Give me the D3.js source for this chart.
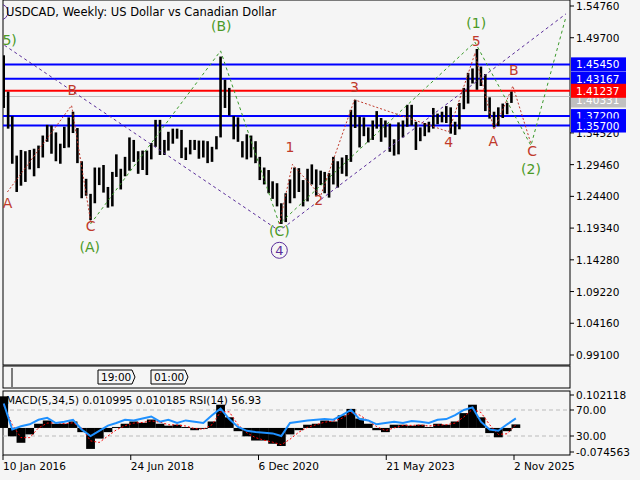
<!DOCTYPE html>
<html><head><meta charset="utf-8">
<script src="https://cdn.jsdelivr.net/npm/d3@7"></script>
<style>body{margin:0;background:#f5f5f5}svg{font-family:"DejaVu Sans",sans-serif}</style>
</head><body><svg id="c" width="640" height="480"></svg>
<script>
// monthly highs / lows from Jan 2016
const highs = [1.469,1.411,1.372,1.309,1.318,1.316,1.318,1.320,1.325,1.341,1.358,1.357,
  1.346,1.328,1.355,1.370,1.379,1.353,1.300,1.272,1.248,1.290,1.290,1.294,
  1.259,1.283,1.311,1.288,1.307,1.338,1.334,1.316,1.317,1.317,1.329,1.366,
  1.366,1.334,1.347,1.352,1.352,1.350,1.322,1.334,1.334,1.333,1.333,1.332,
  1.323,1.340,1.467,1.430,1.417,1.372,1.370,1.332,1.343,1.341,1.332,1.307,
  1.290,1.286,1.268,1.265,1.233,1.249,1.271,1.290,1.289,1.270,1.288,1.295,
  1.287,1.285,1.283,1.281,1.307,1.300,1.306,1.310,1.382,1.398,1.371,1.370,
  1.354,1.365,1.380,1.369,1.365,1.360,1.335,1.362,1.365,1.390,1.390,1.363,
  1.354,1.361,1.363,1.385,1.376,1.379,1.388,1.386,1.363,1.393,1.417,1.441,
  1.448,1.479,1.451,1.439,1.402,1.379,1.386,1.392,1.393,1.411];
const lows = [1.385,1.352,1.296,1.251,1.261,1.267,1.287,1.276,1.289,1.306,1.331,1.312,
  1.300,1.296,1.321,1.322,1.345,1.297,1.241,1.245,1.206,1.233,1.262,1.250,
  1.226,1.228,1.275,1.255,1.276,1.285,1.299,1.280,1.286,1.278,1.303,1.323,
  1.310,1.310,1.317,1.328,1.336,1.305,1.302,1.311,1.318,1.304,1.306,1.297,
  1.299,1.319,1.338,1.385,1.373,1.335,1.331,1.306,1.303,1.306,1.297,1.270,
  1.263,1.249,1.240,1.228,1.200,1.203,1.233,1.241,1.251,1.228,1.236,1.263,
  1.245,1.262,1.249,1.242,1.263,1.258,1.280,1.276,1.299,1.353,1.322,1.340,
  1.330,1.334,1.352,1.331,1.338,1.315,1.309,1.311,1.338,1.355,1.357,1.318,
  1.332,1.340,1.346,1.352,1.359,1.362,1.361,1.344,1.342,1.351,1.383,1.392,
  1.424,1.414,1.420,1.380,1.368,1.354,1.356,1.369,1.375,1.393];
// every two months
const macd = [0.098,-0.026,-0.046,-0.02,0.013,0.023,0.013,0.013,0.02,-0.013,-0.065,-0.033,-0.013,0.003,0.013,0.02,0.016,0.026,0.013,0.007,
  0.01,0.003,-0.007,-0.003,0.02,0.072,0.033,-0.01,-0.026,-0.039,-0.039,-0.049,-0.056,-0.02,-0.007,0.01,0.013,0.023,0.02,0.039,
  0.059,0.029,0.013,-0.007,-0.013,0.01,0.01,0.007,0.01,0.003,0.013,0.01,0.02,0.046,0.072,0.033,-0.016,-0.029,-0.01,0.011];
const signal = [0.07,0.01,-0.03,-0.03,0.0,0.015,0.016,0.013,0.016,0.0,-0.04,-0.045,-0.025,-0.006,0.007,0.015,0.017,0.022,0.018,0.01,
  0.009,0.006,-0.002,-0.004,0.01,0.05,0.05,0.01,-0.015,-0.03,-0.038,-0.044,-0.052,-0.035,-0.013,0.002,0.01,0.018,0.021,0.03,
  0.048,0.04,0.022,0.004,-0.008,0.0,0.008,0.008,0.009,0.006,0.009,0.01,0.015,0.034,0.058,0.048,0.01,-0.02,-0.018,0.010];
const rsi = [80,40,45,48,55,58,50,52,55,40,30,38,46,50,55,54,57,60,52,55,
  50,54,52,50,62,72,56,44,38,36,35,34,30,50,52,54,55,56,55,62,
  70,56,54,48,50,52,50,53,52,50,55,56,62,70,74,52,40,38,48,57];
const priceTicks = [1.5476,1.4970,1.3452,1.2946,1.2440,1.1934,1.1428,1.0922,1.0416,0.9910];
const levels = [{v:1.45450,c:"#0000ff"},{v:1.43167,c:"#0000ff"},{v:1.41237,c:"#ff0000"},{v:1.37200,c:"#0000ff"},{v:1.35700,c:"#0000ff"}];
const current = 1.40331;
const dateTicks = ["2016-01-10","2018-06-24","2020-12-06","2023-05-21","2025-11-02"];
const dateLabels = ["10 Jan 2016","24 Jun 2018","6 Dec 2020","21 May 2023","2 Nov 2025"];
// wave marks as [date, price]
const purple = [["2016-01-20",1.485],["2021-05-01",1.189],["2026-11-01",1.535]];
const green = [["2017-09-15",1.200],["2020-03-15",1.476],["2021-05-01",1.200],["2025-02-01",1.490],["2026-03-01",1.325],["2026-11-01",1.530]];
const redA = [["2016-02-10",1.251],["2017-05-05",1.389],["2017-09-15",1.205]];
const red15 = [["2021-05-01",1.200],["2021-08-01",1.295],["2022-02-15",1.245],["2022-10-10",1.398],["2024-08-01",1.347],["2025-02-01",1.472]];
const redABC = [["2025-02-01",1.472],["2025-06-15",1.350],["2025-10-25",1.420],["2026-03-01",1.328]];
const labels = [
  ["A","2016-02-10",1.225,"#c0392b"],["B","2017-05-10",1.405,"#c0392b"],["C","2017-09-15",1.188,"#c0392b"],
  ["(A)","2017-09-10",1.155,"#4b9a26"],["(B)","2020-03-20",1.508,"#4b9a26"],["(C)","2021-05-01",1.180,"#4b9a26"],
  ["1","2021-07-15",1.315,"#c0392b"],["2","2022-02-01",1.230,"#c0392b"],["3","2022-10-10",1.411,"#c0392b"],
  ["4","2024-08-01",1.323,"#c0392b"],["5","2025-02-10",1.484,"#c0392b"],["(1)","2025-02-10",1.513,"#4b9a26"],
  ["A","2025-06-10",1.325,"#c0392b"],["B","2025-11-01",1.437,"#c0392b"],["C","2026-03-10",1.309,"#c0392b"],
  ["(2)","2026-03-01",1.280,"#4b9a26"]];

const svg = d3.select("#c");
const P = d3.timeParse("%Y-%m-%d");
const x = d3.scaleTime().domain([P(dateTicks[0]),P(dateTicks[4])]).range([3,514]);
const y = d3.scaleLinear().domain([1.5476,0.9910]).range([6,355]);
const R = 570;

// main frame
svg.append("rect").attr("x",3).attr("y",0).attr("width",R-3).attr("height",365).attr("fill","none").attr("stroke","#000");
svg.append("defs").append("clipPath").attr("id","cl").append("rect").attr("x",3).attr("y",0).attr("width",R-3).attr("height",365);
const g = svg.append("g").attr("clip-path","url(#cl)");

g.append("line").attr("x1",3).attr("x2",R).attr("y1",y(current)).attr("y2",y(current)).attr("stroke","#c0c0c0");
levels.forEach(l => g.append("line").attr("x1",3).attr("x2",R).attr("y1",y(l.v)).attr("y2",y(l.v)).attr("stroke",l.c).attr("stroke-width",2));

const mdate = i => new Date(2016, i, 15);
highs.forEach((h,i) => {
  g.append("line").attr("x1",x(mdate(i))).attr("x2",x(mdate(i))).attr("y1",y(h)).attr("y2",y(lows[i])).attr("stroke","#000").attr("stroke-width",2.6);
});

const ln = d3.line().x(d => x(P(d[0]))).y(d => y(d[1]));
g.append("path").attr("d",ln(purple)).attr("fill","none").attr("stroke","#5a2d9a").attr("stroke-dasharray","3,3");
g.append("path").attr("d",ln(green)).attr("fill","none").attr("stroke","#3a9a2a").attr("stroke-dasharray","3,3");
[redA,red15,redABC].forEach(s => g.append("path").attr("d",ln(s)).attr("fill","none").attr("stroke","#c0392b").attr("stroke-dasharray","2,2"));

labels.forEach(l => g.append("text").attr("x",x(P(l[1]))).attr("y",y(l[2])).attr("text-anchor","middle").attr("font-size",14).attr("fill",l[3]).text(l[0]));
// circled wave labels
[["4","2021-05-01",1.150],["3","2015-12-20",1.530]].forEach(l => {
  g.append("circle").attr("cx",x(P(l[1]))).attr("cy",y(l[2])-5).attr("r",8).attr("fill","none").attr("stroke","#5a2d9a");
  g.append("text").attr("x",x(P(l[1]))).attr("y",y(l[2])).attr("text-anchor","middle").attr("font-size",13).attr("fill","#5a2d9a").text(l[0]);
});
g.append("text").attr("x",-3).attr("y",y(1.485)).attr("font-size",14).attr("fill","#4b9a26").text("(5)");
svg.append("text").attr("x",6).attr("y",16).attr("font-size",11.5).text("USDCAD, Weekly:  US Dollar vs Canadian Dollar");

// price axis
priceTicks.forEach(t => {
  svg.append("line").attr("x1",R).attr("x2",R+4).attr("y1",y(t)).attr("y2",y(t)).attr("stroke","#000");
  svg.append("text").attr("x",R+6).attr("y",y(t)+4).attr("font-size",10.5).text(t.toFixed(5));
});
const tag = (v,c,yy) => {
  svg.append("rect").attr("x",R+1).attr("y",yy-7).attr("width",55).attr("height",14).attr("fill",c);
  svg.append("text").attr("x",R+6).attr("y",yy+4).attr("font-size",10.5).attr("fill","#fff").text(v.toFixed(5));
};
tag(current,"#c0c0c0",y(current)+4);
levels.forEach(l => tag(l.v,l.c,y(l.v)));

// small panel
svg.append("rect").attr("x",3).attr("y",366).attr("width",R-3).attr("height",22).attr("fill","none").attr("stroke","#000");
svg.append("line").attr("x1",12).attr("x2",12).attr("y1",368).attr("y2",387).attr("stroke","#000");
[["19:00",98],["01:00",151]].forEach(t => {
  svg.append("path").attr("d",`M${t[1]},370h34l3,7l-3,7h-34z`).attr("fill","#f5f5f5").attr("stroke","#000");
  svg.append("text").attr("x",t[1]+3).attr("y",381).attr("font-size",10.5).text(t[0]);
});

// MACD / RSI panel
svg.append("rect").attr("x",3).attr("y",391).attr("width",R-3).attr("height",64).attr("fill","none").attr("stroke","#000");
const ym = d3.scaleLinear().domain([-0.074563,0.102118]).range([452,395]);
const yr = d3.scaleLinear().domain([30,70]).range([436,410]);
[70,30].forEach(v => svg.append("line").attr("x1",3).attr("x2",R).attr("y1",yr(v)).attr("y2",yr(v)).attr("stroke","#bbb").attr("stroke-dasharray","4,3"));
const bdate = i => new Date(2016, i*2, 15);
macd.forEach((m,i) => svg.append("rect").attr("x",x(bdate(i))-4.4).attr("width",8.8)
  .attr("y",Math.min(ym(m),ym(0))).attr("height",Math.abs(ym(m)-ym(0))).attr("fill","#000"));
svg.append("path").attr("d",d3.line().x((d,i)=>x(bdate(i))).y(d=>ym(d))(signal)).attr("fill","none").attr("stroke","#ff0000").attr("stroke-dasharray","2,2");
svg.append("path").attr("d",d3.line().x((d,i)=>x(bdate(i))).y(d=>yr(d))(rsi)).attr("fill","none").attr("stroke","#1e90ff").attr("stroke-width",2);
svg.append("text").attr("x",6).attr("y",404).attr("font-size",10.5).text("MACD(5,34,5) 0.010995 0.010185 RSI(14) 56.93");
[["0.102118",ym(0.102118)],["70.00",yr(70)],["30.00",yr(30)],["-0.074563",ym(-0.074563)]].forEach(t => {
  svg.append("line").attr("x1",R).attr("x2",R+4).attr("y1",t[1]).attr("y2",t[1]).attr("stroke","#000");
  svg.append("text").attr("x",R+6).attr("y",t[1]+4).attr("font-size",10.5).text(t[0]);
});

// date axis
dateTicks.forEach((d,i) => {
  svg.append("line").attr("x1",x(P(d))).attr("x2",x(P(d))).attr("y1",455).attr("y2",460).attr("stroke","#000");
  svg.append("text").attr("x",x(P(d))).attr("y",470).attr("font-size",10.5).text(dateLabels[i]);
});
</script></body></html>
